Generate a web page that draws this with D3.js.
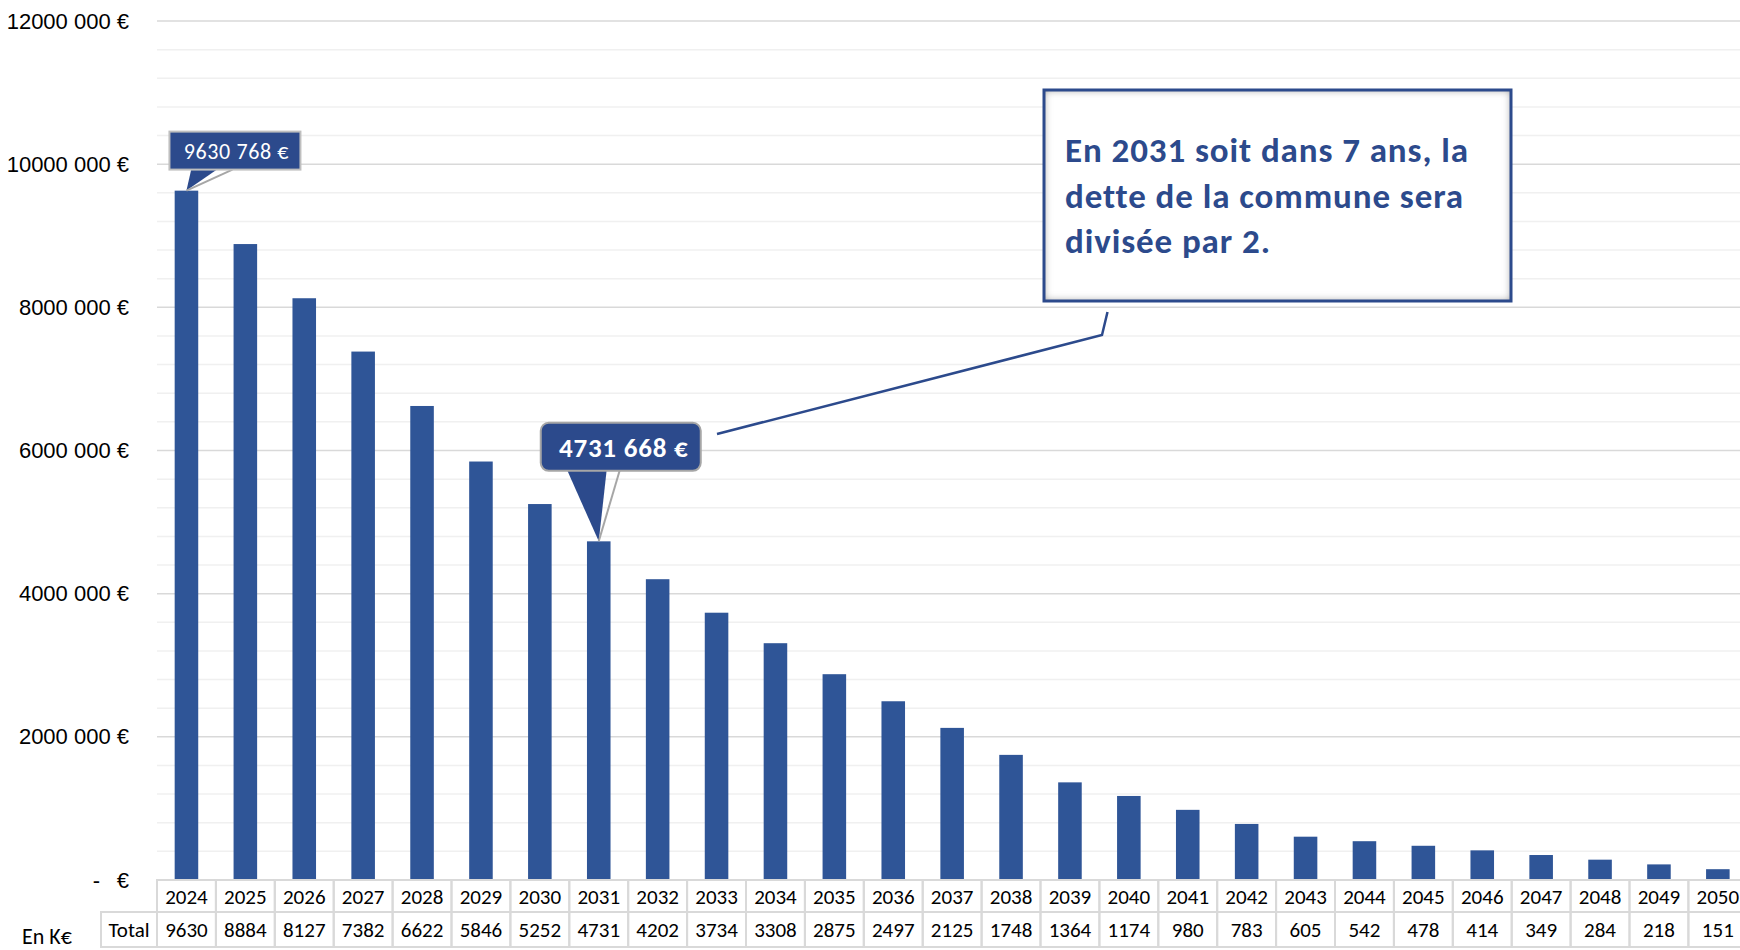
<!DOCTYPE html>
<html>
<head>
<meta charset="utf-8">
<script src="https://cdn.jsdelivr.net/npm/d3@7"></script>
<style>
	body { margin: 0; background: #fff; }
	svg { display: block; font-family: Carlito, Calibri, Lato, sans-serif; }
</style>
</head>
<body>
<div id="chart"></div>
<script>
// DATA
var years = [2024, 2025, 2026, 2027, 2028, 2029, 2030, 2031, 2032, 2033, 2034, 2035, 2036, 2037,
	2038, 2039, 2040, 2041, 2042, 2043, 2044, 2045, 2046, 2047, 2048, 2049, 2050];
// remaining debt in K€ (row "Total" of the table)
var totalsK = [9630, 8884, 8127, 7382, 6622, 5846, 5252, 4731, 4202, 3734, 3308, 2875, 2497, 2125,
	1748, 1364, 1174, 980, 783, 605, 542, 478, 414, 349, 284, 218, 151];
// exact values shown in the two callouts
var calloutYears = [2024, 2031];
var calloutValues = [9630768, 4731668];
var majorTicks = [0, 2000000, 4000000, 6000000, 8000000, 10000000, 12000000];
var noteLines = ["En 2031 soit dans 7 ans, la", "dette de la commune sera", "divisée par 2."];

var width = 1740,
	height = 950;

var BAR_COLOR = "#2f5597",
	CALLOUT_COLOR = "#2c4a8c",
	GRID_MAJOR = "#d9d9d9",
	GRID_MINOR = "#f0f0f0",
	TABLE_LINE = "#d9d9d9";

function euro(v){
	// excel shows "12000 000 €" : only the last group is split
	var k = Math.floor(v / 1000);
	var rest = String(v % 1000).padStart(3, "0");
	return k + " " + rest + " €";
}

function drawChart(){
	var svg = d3.select("#chart").append("svg")
		.attr("width", width)
		.attr("height", height);

	var x = d3.scaleBand()
		.domain(years)
		.range([157, 157 + years.length * 58.9])
		.padding(0);

	var y = d3.scaleLinear()
		.domain([0, 12000000])
		.range([880, 21]);

	var barW = x.bandwidth() * 0.4;

	// gridlines (minor every 400k, major every 2M)
	var minor = d3.range(0, 12000001, 400000).filter(function(d){ return d % 2000000 !== 0; });
	svg.append("g").selectAll("line")
		.data(minor)
		.join("line")
			.attr("x1", 157).attr("x2", width)
			.attr("y1", function(d){ return y(d); })
			.attr("y2", function(d){ return y(d); })
			.attr("stroke", GRID_MINOR)
			.attr("stroke-width", 1.5);
	svg.append("g").selectAll("line")
		.data(majorTicks)
		.join("line")
			.attr("x1", 157).attr("x2", width)
			.attr("y1", function(d){ return y(d); })
			.attr("y2", function(d){ return y(d); })
			.attr("stroke", GRID_MAJOR)
			.attr("stroke-width", 1.5);

	// y axis labels
	var yAxis = svg.append("g")
		.attr("transform", "translate(129,0)")
		.call(d3.axisLeft(y).tickValues(majorTicks).tickSize(0).tickPadding(0).tickFormat(euro));
	yAxis.select(".domain").remove();
	yAxis.selectAll("text")
		.attr("font-family", null)
		.attr("font-size", 22)
		.attr("fill", "#000");
	// zero is written "-   €" (accounting format)
	yAxis.selectAll(".tick").filter(function(d){ return d === 0; }).select("text")
		.text("€")
		.clone()
			.attr("x", -29)
			.text("-");

	// bars
	svg.append("g").selectAll("rect")
		.data(years)
		.join("rect")
			.attr("x", function(d){ return x(d) + (x.bandwidth() - barW) / 2; })
			.attr("width", barW)
			.attr("y", function(d, i){ return y(totalsK[i] * 1000); })
			.attr("height", function(d, i){ return y(0) - y(totalsK[i] * 1000); })
			.attr("fill", BAR_COLOR);

	drawTable(svg, x, y);
	drawCallouts(svg, x, y);
	drawNote(svg);
}

function drawTable(svg, x, y){
	var top = y(0),
		row1 = 32,
		row2 = 35;
	var t = svg.append("g");

	var cols = t.selectAll("g")
		.data(years)
		.join("g")
			.attr("transform", function(d){ return "translate(" + x(d) + ",0)"; });
	cols.append("rect")
		.attr("y", top).attr("width", x.bandwidth()).attr("height", row1)
		.attr("fill", "none").attr("stroke", TABLE_LINE).attr("stroke-width", 2);
	cols.append("rect")
		.attr("y", top + row1).attr("width", x.bandwidth()).attr("height", row2)
		.attr("fill", "none").attr("stroke", TABLE_LINE).attr("stroke-width", 2);
	cols.append("text")
		.attr("x", x.bandwidth() / 2)
		.attr("y", top + row1 / 2)
		.attr("dy", "0.36em")
		.attr("text-anchor", "middle")
		.attr("font-size", 21)
		.text(function(d){ return d; });
	cols.append("text")
		.attr("x", x.bandwidth() / 2)
		.attr("y", top + row1 + row2 / 2)
		.attr("dy", "0.36em")
		.attr("text-anchor", "middle")
		.attr("font-size", 21)
		.text(function(d, i){ return totalsK[i]; });

	// row header
	var hx = 101, hw = x.range()[0] - hx;
	t.append("rect")
		.attr("x", hx).attr("y", top + row1).attr("width", hw).attr("height", row2)
		.attr("fill", "none").attr("stroke", TABLE_LINE).attr("stroke-width", 2);
	t.append("text")
		.attr("x", hx + hw / 2)
		.attr("y", top + row1 + row2 / 2)
		.attr("dy", "0.36em")
		.attr("text-anchor", "middle")
		.attr("font-size", 21)
		.text("Total");

	svg.append("text")
		.attr("x", 22)
		.attr("y", 944)
		.attr("font-size", 22)
		.text("En K€");
}

function drawCallouts(svg, x, y){
	// 2024 : square box, regular text
	var tx = x(calloutYears[0]) + x.bandwidth() / 2,
		ty = y(calloutValues[0]);
	var c1 = svg.append("g");
	c1.append("path")
		.attr("d", "M" + (tx + 5) + "," + (ty - 22) + "L" + tx + "," + ty + "L" + (tx + 32) + "," + (ty - 22) + "Z")
		.attr("fill", CALLOUT_COLOR);
	c1.append("line")
		.attr("x1", tx).attr("y1", ty).attr("x2", tx + 46).attr("y2", ty - 21)
		.attr("stroke", "#a6a6a6").attr("stroke-width", 2);
	c1.append("rect")
		.attr("x", tx - 17).attr("y", ty - 59).attr("width", 131).attr("height", 38)
		.attr("fill", CALLOUT_COLOR).attr("stroke", "#bfbfbf").attr("stroke-width", 2);
	c1.append("text")
		.attr("x", tx + 50).attr("y", ty - 40).attr("dy", "0.36em")
		.attr("text-anchor", "middle")
		.attr("font-size", 22)
		.attr("letter-spacing", 0.6)
		.attr("fill", "#fff")
		.text(euro(calloutValues[0]));

	// 2031 : rounded box, bold text
	tx = x(calloutYears[1]) + x.bandwidth() / 2;
	ty = y(calloutValues[1]);
	var c2 = svg.append("g");
	c2.append("path")
		.attr("d", "M" + (tx - 32) + "," + (ty - 72) + "L" + tx + "," + ty + "L" + (tx + 8) + "," + (ty - 72) + "Z")
		.attr("fill", CALLOUT_COLOR);
	c2.append("line")
		.attr("x1", tx).attr("y1", ty).attr("x2", tx + 21).attr("y2", ty - 71)
		.attr("stroke", "#a6a6a6").attr("stroke-width", 2);
	c2.append("rect")
		.attr("x", tx - 58).attr("y", ty - 118.5).attr("width", 160).attr("height", 48)
		.attr("rx", 8)
		.attr("fill", CALLOUT_COLOR).attr("stroke", "#a6a6a6").attr("stroke-width", 2);
	c2.append("text")
		.attr("x", tx + 25).attr("y", ty - 94.5).attr("dy", "0.36em")
		.attr("text-anchor", "middle")
		.attr("font-size", 27)
		.attr("letter-spacing", 0.8)
		.attr("font-weight", "bold")
		.attr("fill", "#fff")
		.text(euro(calloutValues[1]));
}

function drawNote(svg){
	var defs = svg.append("defs");
	var f = defs.append("filter").attr("id", "inset")
		.attr("x", "-5%").attr("y", "-10%").attr("width", "110%").attr("height", "120%");
	f.append("feFlood").attr("flood-color", "#7a7a7a").attr("result", "c");
	f.append("feComposite").attr("in", "c").attr("in2", "SourceAlpha").attr("operator", "out").attr("result", "inv");
	f.append("feGaussianBlur").attr("in", "inv").attr("stdDeviation", 4).attr("result", "blur");
	f.append("feComposite").attr("in", "blur").attr("in2", "SourceAlpha").attr("operator", "in").attr("result", "sh");
	var m = f.append("feMerge");
	m.append("feMergeNode").attr("in", "SourceGraphic");
	m.append("feMergeNode").attr("in", "sh");

	var bx = 1044, by = 90, bw = 467, bh = 211;

	// leader line to the 2031 callout
	svg.append("path")
		.attr("d", "M717,434L1102,335L1107.5,312")
		.attr("fill", "none")
		.attr("stroke", CALLOUT_COLOR)
		.attr("stroke-width", 2.5);

	svg.append("rect")
		.attr("x", bx).attr("y", by).attr("width", bw).attr("height", bh)
		.attr("fill", "#fff")
		.attr("filter", "url(#inset)");
	svg.append("rect")
		.attr("x", bx).attr("y", by).attr("width", bw).attr("height", bh)
		.attr("fill", "none")
		.attr("stroke", CALLOUT_COLOR)
		.attr("stroke-width", 3);

	var lines = svg.append("g").selectAll("text")
		.data(noteLines)
		.join("text")
			.attr("x", 1065)
			.attr("y", function(d, i){ return 162 + i * 45.5; })
			.attr("font-size", 35)
			.attr("font-weight", "bold")
			.attr("fill", CALLOUT_COLOR)
			.text(function(d){ return d; });

	// stretch letter spacing so the first line is as wide as in the original (~403px)
	var first = lines.node();
	var len = first.getComputedTextLength();
	var ls = Math.max(0, (403 - len) / (noteLines[0].length - 1));
	lines.attr("letter-spacing", ls.toFixed(2));
}

///EXECUTE
drawChart();
</script>
</body>
</html>
